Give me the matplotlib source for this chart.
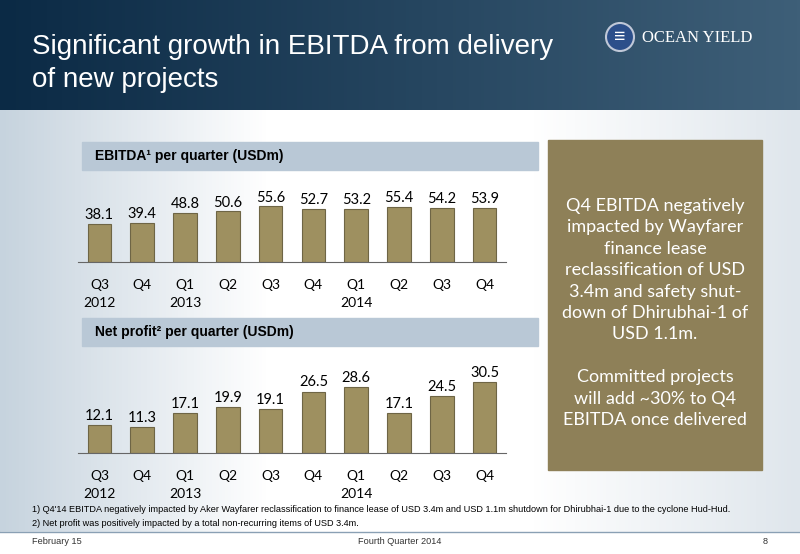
import matplotlib
matplotlib.use('Agg')
import matplotlib.pyplot as plt
import matplotlib.patches as patches
import numpy as np

quarters = ['Q3', 'Q4', 'Q1', 'Q2', 'Q3', 'Q4', 'Q1', 'Q2', 'Q3', 'Q4']
years = ['2012', '', '2013', '', '', '', '2014', '', '', '']
ebitda = [38.1, 39.4, 48.8, 50.6, 55.6, 52.7, 53.2, 55.4, 54.2, 53.9]
net_profit = [12.1, 11.3, 17.1, 19.9, 19.1, 26.5, 28.6, 17.1, 24.5, 30.5]

W, H = 800, 554
fig = plt.figure(figsize=(8, 5.54), dpi=100)
plt.rcParams['font.family'] = ['Liberation Sans', 'DejaVu Sans']

def fx(px):
    return px / W

def fy(py):
    return 1 - py / H

# background
bg = fig.add_axes([0, 0, 1, 1], zorder=0)
bg.axis('off')
grad = np.linspace(0, 1, 256)[None, :]
bg.imshow(grad, extent=[0, W, 110, 0], aspect='auto',
          cmap=matplotlib.colors.LinearSegmentedColormap.from_list('h', ['#0b2a45', '#3e5f78']))
bg.imshow(grad, extent=[0, W, 532, 110], aspect='auto',
          cmap=matplotlib.colors.LinearSegmentedColormap.from_list('b', ['#c6d3de', '#ffffff', '#ffffff', '#dfe6ec']))
bg.add_patch(patches.Rectangle((0, 532), W, 22, color='white'))
bg.plot([0, W], [532, 532], color='#8aa0b4', lw=1)
bg.set_xlim(0, W)
bg.set_ylim(H, 0)

bg.text(32, 47, 'Significant growth in EBITDA from delivery', color='white', fontsize=20, va='center')
bg.text(32, 80, 'of new projects', color='white', fontsize=20, va='center')
bg.add_patch(patches.Circle((620, 37), 14, color='#2c4f8a', ec='#c0c8d8', lw=1.5))
bg.text(620, 37, '≡', color='white', fontsize=14, ha='center', va='center')
bg.text(642, 38, 'OCEAN YIELD', color='white', fontsize=12, va='center', family='Liberation Serif')

# chart header boxes
for y0, label in [(142, 'EBITDA¹ per quarter (USDm)'), (318, 'Net profit² per quarter (USDm)')]:
    bg.add_patch(patches.Rectangle((82, y0), 456, 28, color='#b9c8d6'))
    bg.text(95, y0 + 14, label, fontsize=10, fontweight='bold', va='center', color='black')

# right box
bg.add_patch(patches.Rectangle((548, 140), 214, 330, color='#8e8058'))
right_text = ('Q4 EBITDA negatively\nimpacted by Wayfarer\nfinance lease\nreclassification of USD\n'
              '3.4m and safety shut-\ndown of Dhirubhai-1 of\nUSD 1.1m.\n\nCommitted projects\n'
              'will add ~30% to Q4\nEBITDA once delivered')
bg.text(655, 313, right_text, color='white', fontsize=13, ha='center', va='center',
        linespacing=1.42, family='Lato')

bg.text(32, 510, '1) Q4\'14 EBITDA negatively impacted by Aker Wayfarer reclassification to finance lease of USD 3.4m and USD 1.1m shutdown for Dhirubhai-1 due to the cyclone Hud-Hud.',
        fontsize=6.6, va='center')
bg.text(32, 524, '2) Net profit was positively impacted by a total non-recurring items of USD 3.4m.',
        fontsize=6.6, va='center')
bg.text(32, 542, 'February 15', fontsize=6.6, va='center', color='#333333')
bg.text(400, 542, 'Fourth Quarter 2014', fontsize=6.6, va='center', ha='center', color='#333333')
bg.text(768, 542, '8', fontsize=6.6, va='center', ha='right', color='#333333')


def bar_panel(base_px, top_px, ymax, values):
    ax = fig.add_axes([fx(78), fy(base_px), fx(506) - fx(78), (base_px - top_px) / H], zorder=2)
    ax.patch.set_alpha(0)
    x = np.arange(len(values))
    ax.bar(x, values, width=0.55, color='#9e9060', edgecolor='#6e6545', linewidth=0.8)
    for xi, v in zip(x, values):
        ax.text(xi, v + ymax * 0.03, f'{v:.1f}', ha='center', va='bottom', fontsize=10.5, family='Lato')
    ax.set_xlim(-0.5, len(values) - 0.5)
    ax.set_ylim(0, ymax)
    ax.set_xticks(x)
    ax.set_xticklabels([q + '\n' + yr for q, yr in zip(quarters, years)], fontsize=10,
                       family='Lato', va='top', linespacing=1.65)
    ax.tick_params(axis='x', length=0, pad=12)
    ax.set_yticks([])
    for s in ['top', 'right', 'left']:
        ax.spines[s].set_visible(False)
    ax.spines['bottom'].set_color('#666666')
    return ax


bar_panel(262, 200, 62, ebitda)
bar_panel(453, 379, 32, net_profit)

fig.savefig('out.png', dpi=100)
